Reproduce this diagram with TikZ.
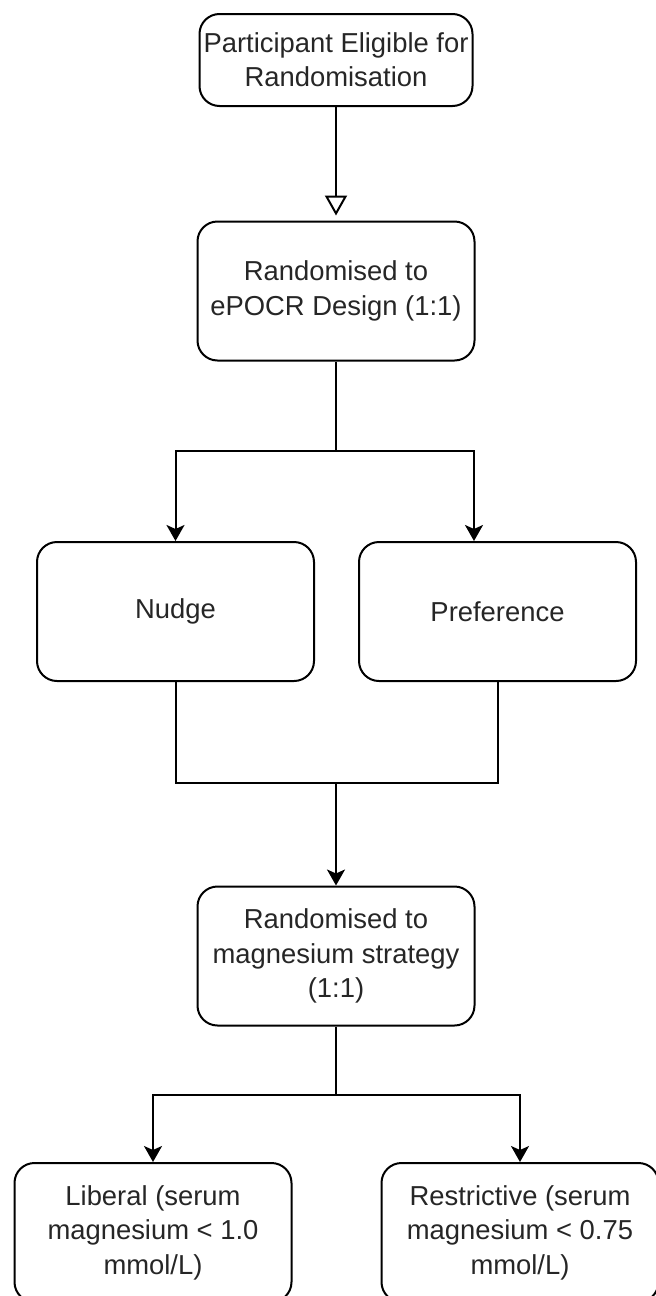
\documentclass[tikz,border=0pt]{standalone}
\usepackage{fontspec}
\setmainfont{Liberation Sans}
\usetikzlibrary{arrows.meta}

\begin{document}
\begin{tikzpicture}[x=.5pt, y=-.5pt,
	flowbox/.style={draw, line width=1pt, rounded corners=10pt, align=center, inner sep=0pt,
		minimum width=138.5pt, minimum height=69.5pt, text=black!85,
		font=\fontsize{13.7}{17.2}\selectfont},
	link/.style={line width=1pt, -{Stealth[length=8pt, width=9pt, inset=2pt]}},
	openlink/.style={line width=1pt, -{Triangle[open, length=10pt, width=11pt]}, shorten >=2.5pt}]
	\useasboundingbox (0,0) rectangle (656,1296);
	% boxes
	\node[flowbox, minimum width=136.5pt, minimum height=46pt] (elig) at (336,60)     {Participant Eligible for\\Randomisation};
	\node[flowbox]                                             (epocr) at (336,291)   {Randomised to\\ePOCR Design (1:1)};
	\node[flowbox]                                             (nudge) at (175.5,611.5) {Nudge};
	\node[flowbox]                                             (pref)  at (497.5,611.5) {Preference};
	\node[flowbox]                                             (mag)   at (336,956)   {Randomised to\\magnesium strategy\\(1:1)};
	\node[flowbox]                                             (lib)   at (153,1232.5) {Liberal (serum\\magnesium < 1.0\\mmol/L)};
	\node[flowbox]                                             (res)   at (520,1232.5) {Restrictive (serum\\magnesium < 0.75\\mmol/L)};
	% split and join points
	\coordinate (s1) at (336,451);
	\coordinate (j1) at (336,783);
	\coordinate (s2) at (336,1095);
	% connectors
	\draw[openlink] (elig) -- (epocr);
	\draw[line width=1pt] (epocr) -- (s1);
	\draw[link] (s1) -| (nudge);
	\draw[link] (s1) -| ([xshift=-11.75pt]pref.north);
	\draw[line width=1pt] (nudge) |- (j1);
	\draw[line width=1pt] (pref) |- (j1);
	\draw[link] (j1) -- (mag);
	\draw[line width=1pt] (mag) -- (s2);
	\draw[link] (s2) -| (lib);
	\draw[link] (s2) -| (res);
\end{tikzpicture}
\end{document}
